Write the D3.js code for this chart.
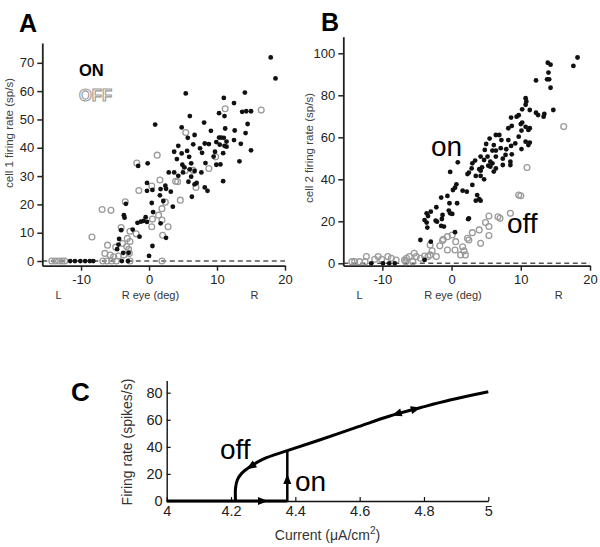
<!DOCTYPE html>
<html><head><meta charset="utf-8">
<script src="https://cdn.jsdelivr.net/npm/d3@7/dist/d3.min.js"></script>
<style>
body{margin:0;background:#fff;}
svg{display:block;font-family:"Liberation Sans",Arial,sans-serif;}
</style></head>
<body><svg id="c" width="600" height="547"></svg>
<script>
// ---------- DATA ----------
const xTicksAB = [-10, 0, 10, 20];
const yTicksA = [0, 10, 20, 30, 40, 50, 60, 70];
const yTicksB = [0, 20, 40, 60, 80, 100];
const xTicksC = [4, 4.2, 4.4, 4.6, 4.8, 5];
const yTicksC = [0, 20, 40, 60, 80];

// Panel A: cell 1, ON (filled black)  [deg, sp/s]
const cell1On = [
[17.9,71.9],[18.6,64.5],[5.4,59.2],[14.1,59.5],[11.0,57.6],[12.5,55.8],[13.7,52.7],[14.3,52.9],[15.0,52.9],
[6.0,51.2],[0.9,48.2],[4.8,47.2],[8.1,48.9],[10.3,52.2],[11.1,51.2],[14.5,48.4],[9.1,46.0],[11.2,46.8],
[12.6,46.1],[14.2,45.2],[4.3,40.7],[5.7,43.5],[6.7,44.5],[3.7,38.6],[4.8,38.0],[5.6,38.9],[6.5,41.2],
[7.5,39.8],[8.2,41.5],[8.8,41.3],[9.9,42.0],[10.3,43.6],[10.6,43.6],[11.0,43.5],[11.4,42.2],[12.5,42.7],
[13.5,41.4],[10.4,41.1],[11.1,40.7],[9.7,38.6],[10.9,38.1],[11.4,40.4],[15.0,39.1],[4.1,36.0],[5.9,36.8],
[6.2,34.5],[7.8,38.2],[9.5,36.9],[9.9,34.0],[10.5,34.1],[13.3,35.2],[4.9,34.0],[5.2,33.1],[6.0,32.4],
[6.7,31.8],[6.2,29.8],[5.0,31.3],[4.3,30.1],[2.9,31.3],[3.7,31.3],[-1.6,33.6],[-0.2,34.5],[7.7,31.3],
[8.3,34.6],[7.0,27.6],[6.7,27.1],[5.8,28.0],[10.9,28.2],[-0.3,27.6],[0.5,25.1],[-0.3,24.8],[1.7,25.4],
[2.4,26.6],[2.5,25.5],[3.2,24.5],[1.6,23.2],[6.3,22.7],[8.6,24.8],[8.2,26.0],[2.1,21.2],[0.4,20.5],
[-3.4,20.2],[3.5,19.2],[0.6,17.3],[-0.5,15.5],[-3.7,16.2],[-3.6,15.3],[-0.8,14.2],[-1.2,13.9],[-1.7,13.5],
[-0.3,13.8],[1.7,13.3],[-4.1,10.9],[-2.4,11.1],[-1.4,8.6],[-4.4,7.8],[2.5,8.2],[-4.5,5.8],[-4.7,4.2],
[0.5,5.3],[-3.8,2.9],[-3.0,2.9],[0.0,1.8],
[-11.6,0],[-10.9,0],[-10.1,0],[-9.4,0],[-8.7,0],[-8.2,0],[-4.0,0],[-3.1,0]
];
// Panel A: cell 1, OFF (open grey)
const cell1Off = [
[16.5,53.3],[11.2,53.8],[5.4,45.4],[1.2,37.4],[-1.8,34.6],[-1.5,24.9],[0.4,26.5],[1.6,28.6],[3.9,28.2],
[4.2,28.0],[5.3,31.9],[6.5,32.0],[6.9,26.0],[8.8,32.7],[9.8,36.8],[4.6,21.5],[2.4,20.8],[1.9,18.5],
[1.4,16.2],[0.5,14.8],[0.4,12.1],[1.9,14.5],[2.8,12.1],[2.0,9.1],[-3.5,20.9],[-6.9,18.2],[-5.6,17.9],
[-8.4,8.5],[-4.1,11.8],[-2.8,10.5],[-1.9,9.6],[-6.1,5.6],[-4.9,4.9],[-3.9,6.2],[-3.3,5.1],[-3.0,4.1],
[-2.9,2.7],[-6.5,2.7],[-5.7,2.1],[-5.2,1.5],[-4.5,1.8],[-3.7,2.1],[-3.2,8.0],[-2.8,6.9],
[-14.3,0],[-13.8,0],[-13.3,0],[-12.8,0],[-12.4,0],[-6.8,0],[-6.2,0],[-5.5,0],[-4.8,0],[-2.8,0],[1.9,0]
];
// Panel B: cell 2, ON
const cell2On = [
[18.2,98],[17.6,94],[13.9,95.5],[14.3,94.6],[14.0,90.8],[13.8,87.6],[14.1,87.6],[12.2,87.1],[14.3,83.6],
[14.7,73],[12.2,71.7],[12.5,70.6],[13.4,71.1],[13.3,69.8],[10.7,78.6],[10.8,77.1],[10.7,75.5],[10.2,73.3],
[11.3,73],[9.7,70.5],[9.4,69.8],[8.6,69.4],[10.2,67],[10.0,66.3],[8.7,65.4],[8.2,64.3],[10.7,65],[11.3,64.3],
[11.1,63.5],[10.1,63.2],[9.7,60.3],[10.7,57.9],[11.3,57.5],[11.1,56.3],[6.4,61.1],[6.9,61.1],[5.5,59.4],
[7.2,58.7],[8.2,58.7],[9.2,57.1],[5.0,56.8],[6.1,56.3],[7.1,54.8],[7.9,54.3],[8.6,55.9],[10.1,54.4],[4.8,54],
[5.9,53.7],[6.4,53.7],[7.8,51.6],[8.7,51.9],[4.2,50.8],[5.2,50.8],[6.4,50.8],[7.4,49.8],[8.5,48.4],[5.6,48.4],
[5.9,47.6],[5.3,46.5],[5.6,46],[4.7,49.2],[3.4,48.9],[3.0,47.6],[4.4,45.7],[4.0,44.8],[4.2,44.1],[6.4,45.2],
[6.1,43.7],[7.4,46.8],[8.5,46.8],[2.9,45.2],[2.5,43.2],[2.3,42.5],[4.7,40],[0.9,48.1],[-0.2,43.5],[3.5,41.6],
[3.0,37.3],[4.2,41.6],[0.7,37.6],[0.5,36],[1.6,34.6],[2.2,34.1],[0.2,34.9],[3.7,32.5],[4.0,30.5],[4.2,29.8],
[3.5,29.8],[-1.5,31.3],[-0.6,32.1],[-0.3,28.6],[0.8,28.6],[-0.4,25.1],[-0.2,23.8],[0.1,23.5],[-3.0,24.6],
[-2.2,26.7],[-1.3,23],[-1.4,21.1],[-3.6,23.8],[-3.4,22.5],[-3.9,20.6],[-3.6,19.4],[-3.5,17],[-2.3,20.3],
[-2.1,19.8],[-1.5,17.8],[-1.1,17.5],[2.5,21.4],[2.4,21],[-4.5,11.1],[-3.0,10.3],[0.5,14.8],[-3.9,1.6],
[-11.6,0],[-9.9,0],[-9.0,0],[-8.2,0]
];
// Panel B: cell 2, OFF
const cell2Off = [
[16.2,65.1],[10.9,45.6],[9.7,32.5],[10.0,32.2],[8.5,23.8],[6.7,22.2],[7.0,21.4],[5.4,22.5],[4.9,19.4],
[5.4,17.5],[5.4,13.2],[4.0,15.9],[4.2,9.5],[3.0,14.6],[2.3,11.9],[2.5,11.1],[1.6,7.9],[1.8,5.9],[2.0,4.0],
[1.3,4.0],[0.6,10.3],[0.1,13.5],[-0.6,12.7],[-1.2,11.4],[-1.3,10.8],[-1.7,8.3],[-0.6,6.3],[0.5,6.3],
[-3.1,8.7],[-2.8,6.0],[-3.1,4.0],[-2.2,3.2],[-5.4,4.8],[-5.1,3.2],[-6.1,3.2],[-6.5,2.4],[-6.8,1.6],
[-4.5,2.4],[-3.9,3.5],[-3.4,3.2],[-8.0,1.6],[-8.7,2.4],[-9.2,3.2],[-10.6,3.2],[-11.1,1.9],[-10.1,1.9],
[-12.3,3.2],[-13.3,0.8],[-14.0,0.8],[-14.4,0.8],[-12.5,0.8],[-6.6,0.8],[-5.6,0.8]
];
// Panel C: model f-I curve
const cUpperBranch = [
[4.214,0],[4.214,9.4],[4.2196,15.5],[4.233,20.4],[4.259,25.3],[4.300,31.0],[4.375,37.2],[4.466,44.3],
[4.596,54.9],[4.694,62.8],[4.788,68.9],[4.881,74.6],[5.0,80.7]
];
const cLowerBranch = [[4.0,0],[4.375,0]];
const cJumpOn = [[4.375,0],[4.375,37.2]];
const cArrows = [
 {from:[4.28,0], to:[4.315,0]},
 {from:[4.375,13], to:[4.375,20]},
 {from:[4.275,27.5], to:[4.248,23.4]},
 {from:[4.74,66.2], to:[4.70,63.2]},
 {from:[4.75,66.5], to:[4.79,69.1]}
];

// ---------- DRAW ----------
const svg = d3.select("#c");
const tickCol = "#222";
const plainFmt = d => String(d);

function scatterPanel(opt){
  const g = svg.append("g");
  const x = d3.scaleLinear().domain(opt.xd).range(opt.xr);
  const y = d3.scaleLinear().domain(opt.yd).range(opt.yr);
  g.append("line").attr("x1", opt.xr[0]).attr("x2", opt.xr[1])
    .attr("y1", y(0)).attr("y2", y(0))
    .attr("stroke", "#555").attr("stroke-width", 1.5).attr("stroke-dasharray", "5,3.5");
  const ya = g.append("g").attr("transform", `translate(${opt.xr[0]},0)`)
    .call(d3.axisLeft(y).tickValues(opt.yt).tickFormat(plainFmt).tickSize(5).tickSizeOuter(0).tickPadding(3));
  const xa = g.append("g").attr("transform", `translate(0,${opt.yr[0]})`)
    .call(d3.axisBottom(x).tickValues(xTicksAB).tickFormat(plainFmt).tickSize(5).tickSizeOuter(0).tickPadding(4));
  [ya, xa].forEach(a => {
    a.select(".domain").attr("stroke", "#222").attr("stroke-width", 1.8);
    a.selectAll(".tick line").attr("stroke", "#222").attr("stroke-width", 1.5);
    a.selectAll(".tick text").attr("fill", tickCol).attr("font-size", 13)
      .attr("font-family", '"Liberation Sans",Arial,sans-serif');
  });
  g.append("g").selectAll("circle").data(opt.off).join("circle")
    .attr("cx", d => x(d[0])).attr("cy", d => y(d[1])).attr("r", 2.9)
    .attr("fill", "none").attr("stroke", "#9a9a9a").attr("stroke-width", 1.3);
  g.append("g").selectAll("circle").data(opt.on).join("circle")
    .attr("cx", d => x(d[0])).attr("cy", d => y(d[1])).attr("r", 2.4)
    .attr("fill", "#111");
  const lbY = opt.yr[0] + 33;
  g.append("text").attr("x", x(-13.3)).attr("y", lbY).attr("text-anchor","middle")
    .attr("font-size", 11).attr("fill", "#333").text("L");
  g.append("text").attr("x", x(0.2)).attr("y", lbY).attr("text-anchor","middle")
    .attr("font-size", 11).attr("fill", "#333").text("R eye (deg)");
  g.append("text").attr("x", x(15.5)).attr("y", lbY).attr("text-anchor","middle")
    .attr("font-size", 11).attr("fill", "#333").text("R");
  g.append("text").attr("transform", `translate(${opt.ylx},${opt.yly}) rotate(-90)`)
    .attr("text-anchor","middle").attr("font-size", 11.5).attr("fill", "#444").text(opt.ylabel);
  g.append("text").attr("x", opt.letter[0]).attr("y", opt.letter[1])
    .attr("font-size", 25).attr("font-weight", "bold").attr("fill", "#000").text(opt.letterText);
  return {g, x, y};
}

const A = scatterPanel({
  xd:[-15.7,20], xr:[42.3,285], yd:[-1.65,77], yr:[265.7,43],
  yt:yTicksA, on:cell1On, off:cell1Off, ylabel:"cell 1 firing rate (sp/s)",
  ylx:13, yly:133, letter:[19,32], letterText:"A"
});
A.g.append("text").attr("x", 79).attr("y", 76).attr("font-size", 16.5).attr("font-weight","bold")
  .attr("fill","#000").text("ON");
A.g.append("text").attr("x", 79).attr("y", 101).attr("font-size", 16.5).attr("font-weight","bold")
  .attr("fill","#fff").attr("stroke","#999").attr("stroke-width",1.1).text("OFF");

const B = scatterPanel({
  xd:[-15.64,20], xr:[343.3,590], yd:[-1.14,107.9], yr:[265.7,36.7],
  yt:yTicksB, on:cell2On, off:cell2Off, ylabel:"cell 2 firing rate (sp/s)",
  ylx:313, yly:148, letter:[321,31], letterText:"B"
});
B.g.append("text").attr("x", 431).attr("y", 156).attr("font-size", 28).attr("fill","#000").text("on");
B.g.append("text").attr("x", 507).attr("y", 233).attr("font-size", 28).attr("fill","#000").text("off");

// Panel C
const gc = svg.append("g");
const xc = d3.scaleLinear().domain([4,5]).range([166.7,488.3]);
const yc = d3.scaleLinear().domain([0,89]).range([501,380.5]);
const ycA = gc.append("g").attr("transform",`translate(${xc(4)},0)`)
  .call(d3.axisLeft(yc).tickValues(yTicksC).tickFormat(plainFmt).tickSize(-4).tickSizeOuter(0).tickPadding(4));
const xcA = gc.append("g").attr("transform",`translate(0,${yc(0)})`)
  .call(d3.axisBottom(xc).tickValues(xTicksC).tickFormat(plainFmt).tickSize(-4).tickSizeOuter(0).tickPadding(5));
[ycA, xcA].forEach(a => {
  a.select(".domain").attr("stroke","#111").attr("stroke-width",1.4);
  a.selectAll(".tick line").attr("stroke","#111").attr("stroke-width",1.2);
  a.selectAll(".tick text").attr("fill","#222").attr("font-size",14.5)
    .attr("font-family",'"Liberation Sans",Arial,sans-serif');
});
const lineL = d3.line().x(d => xc(d[0])).y(d => yc(d[1]));
gc.append("path").attr("d", lineL(cLowerBranch)).attr("fill","none").attr("stroke","#000").attr("stroke-width",3);
gc.append("path").attr("d", lineL(cJumpOn)).attr("fill","none").attr("stroke","#000").attr("stroke-width",2.5);
gc.append("path").attr("d", d3.line().x(d => xc(d[0])).y(d => yc(d[1])).curve(d3.curveCatmullRom)(cUpperBranch))
  .attr("fill","none").attr("stroke","#000").attr("stroke-width",3);
cArrows.forEach(a => {
  const x0 = xc(a.from[0]), y0 = yc(a.from[1]), x1 = xc(a.to[0]), y1 = yc(a.to[1]);
  const dx = x1-x0, dy = y1-y0, L = Math.hypot(dx,dy), ux = dx/L, uy = dy/L;
  const len = 10, w = 4;
  const bx = x1 - ux*len, by = y1 - uy*len;
  gc.append("path").attr("d", `M${x1},${y1}L${bx - uy*w},${by + ux*w}L${bx + uy*w},${by - ux*w}Z`)
    .attr("fill","#000");
});
gc.append("text").attr("x", 220).attr("y", 459).attr("font-size", 28).attr("fill","#000").text("off");
gc.append("text").attr("x", 295).attr("y", 491).attr("font-size", 28).attr("fill","#000").text("on");
const cl = gc.append("text").attr("x", 327.5).attr("y", 540).attr("text-anchor","middle")
  .attr("font-size", 14).attr("fill","#333");
cl.append("tspan").text("Current (\u03bcA/cm");
cl.append("tspan").attr("dy", -6).attr("font-size", 10).text("2");
cl.append("tspan").attr("dy", 6).text(")");
gc.append("text").attr("transform","translate(132,442) rotate(-90)").attr("text-anchor","middle")
  .attr("font-size", 14).attr("fill","#333").text("Firing rate (spikes/s)");
gc.append("text").attr("x", 71).attr("y", 401).attr("font-size", 26).attr("font-weight","bold").attr("fill","#000").text("C");
</script></body></html>
